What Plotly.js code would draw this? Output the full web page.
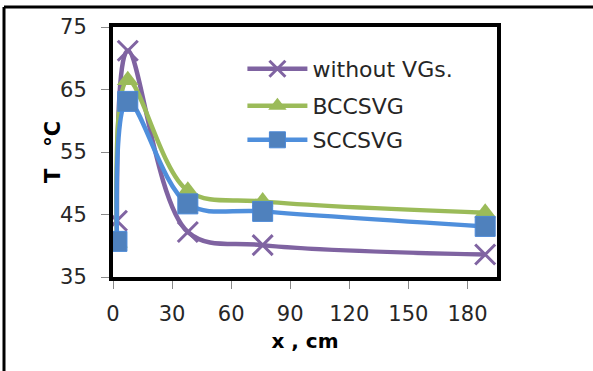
<!DOCTYPE html>
<html>
<head>
<meta charset="utf-8">
<script src="https://cdn.plot.ly/plotly-3.0.1.min.js"></script>
<style>html,body{margin:0;padding:0;background:#fff;} #chart{width:593px;height:371px;}</style>
</head>
<body>
<div id="chart"></div>
<script>
// Data
const xPos = [2, 7.5, 38, 76, 189];
const tWithout = [44, 71.2, 42.2, 40.1, 38.6];
const tBCCSVG = [40.5, 66.5, 48.8, 47.1, 45.3];
const tSCCSVG = [40.7, 63.1, 46.7, 45.5, 43.1];
const seriesNames = ['without VGs.', 'BCCSVG', 'SCCSVG'];
const xTicks = [0, 30, 60, 90, 120, 150, 180];
const yTicks = [35, 45, 55, 65, 75];

const FONT = 'DejaVu Sans';

const traces = [
  {x: xPos, y: tWithout, name: seriesNames[0], mode: 'lines+markers', legend: 'legend',
   line: {color: '#7F63A1', width: 4.5, shape: 'spline', smoothing: 1},
   marker: {symbol: 'x-thin-open', size: 20, color: '#8064A2', line: {color: '#8064A2', width: 3}}},
  {x: xPos, y: tBCCSVG, name: seriesNames[1], mode: 'lines+markers', legend: 'legend2',
   line: {color: '#9BBB59', width: 4.5, shape: 'spline', smoothing: 1},
   marker: {symbol: 'triangle-up', size: 19, color: '#9BBB59', line: {width: 0}}},
  {x: xPos, y: tSCCSVG, name: seriesNames[2], mode: 'lines+markers', legend: 'legend3',
   line: {color: '#4F8FDC', width: 4.5, shape: 'spline', smoothing: 1},
   marker: {symbol: 'square', size: 20, color: '#4F81BD', line: {color: '#4A88D6', width: 1}}}
];

function leg(y) {
  return {x: 0.337, y: y, xanchor: 'left', yanchor: 'middle', bgcolor: 'rgba(0,0,0,0)',
          borderwidth: 0, itemwidth: 60, font: {family: FONT, size: 22, color: '#262626'}};
}

const layout = {
  width: 593, height: 371,
  margin: {l: 113, r: 96, t: 27, b: 94, pad: 0},
  paper_bgcolor: '#fff', plot_bgcolor: '#fff',
  showlegend: true,
  legend: leg(0.832), legend2: leg(0.684), legend3: leg(0.548),
  xaxis: {range: [0, 195], tickvals: xTicks, ticktext: xTicks.map(String),
          showline: true, linecolor: '#000', linewidth: 4, mirror: true,
          ticks: 'outside', ticklen: 8, tickwidth: 1, tickcolor: '#888',
          showgrid: false, zeroline: false, ticklabelstandoff: 7,
          tickfont: {family: FONT, size: 21, color: '#262626'},
          title: {text: '<b>x , cm</b>', font: {family: FONT, size: 20, color: '#000'}, standoff: 10}},
  yaxis: {range: [35, 75], tickvals: yTicks, ticktext: yTicks.map(String),
          showline: true, linecolor: '#000', linewidth: 4, mirror: true,
          ticks: 'outside', ticklen: 8, tickwidth: 1, tickcolor: '#888',
          showgrid: false, zeroline: false, ticklabelstandoff: 10,
          tickfont: {family: FONT, size: 21, color: '#262626'}},
  annotations: [{text: '<b>T   °C</b>', textangle: -90, xref: 'paper', yref: 'paper',
                 x: (53 - 113) / 384, y: (277 - 152) / 250, xanchor: 'center', yanchor: 'middle',
                 showarrow: false, font: {family: FONT, size: 21, color: '#000'}}],
  shapes: [
    {type: 'line', xref: 'paper', yref: 'paper', x0: (4 - 113) / 384, x1: (593 - 113) / 384,
     y0: (277 - 7) / 250, y1: (277 - 7) / 250, line: {color: '#000', width: 3}},
    {type: 'line', xref: 'paper', yref: 'paper', x0: (4 - 113) / 384, x1: (4 - 113) / 384,
     y0: (277 - 7) / 250, y1: (277 - 371) / 250, line: {color: '#000', width: 3}}
  ]
};

Plotly.newPlot('chart', traces, layout, {displayModeBar: false, staticPlot: true});
</script>
</body>
</html>
